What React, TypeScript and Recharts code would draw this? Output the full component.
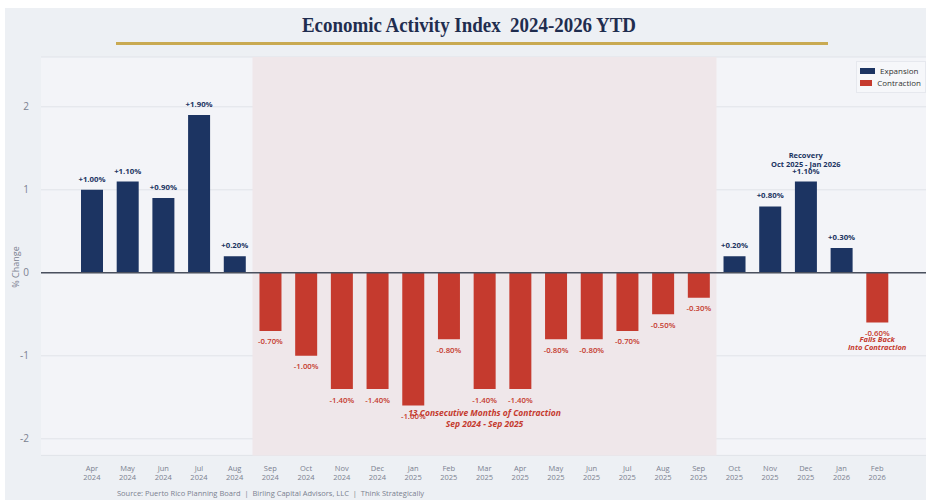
import React from 'react';
import {
  ComposedChart, Bar, XAxis, YAxis, CartesianGrid, ReferenceArea, ReferenceLine,
  ReferenceDot, LabelList, Cell,
} from 'recharts';

const months = [
  'Apr 2024', 'May 2024', 'Jun 2024', 'Jul 2024', 'Aug 2024', 'Sep 2024', 'Oct 2024',
  'Nov 2024', 'Dec 2024', 'Jan 2025', 'Feb 2025', 'Mar 2025', 'Apr 2025', 'May 2025',
  'Jun 2025', 'Jul 2025', 'Aug 2025', 'Sep 2025', 'Oct 2025', 'Nov 2025', 'Dec 2025',
  'Jan 2026', 'Feb 2026',
];
const changes = [
  1.0, 1.1, 0.9, 1.9, 0.2, -0.7, -1.0, -1.4, -1.4, -1.6, -0.8, -1.4, -1.4, -0.8,
  -0.8, -0.7, -0.5, -0.3, 0.2, 0.8, 1.1, 0.3, -0.6,
];
const yTicks = [-2, -1, 0, 1, 2];
const legendItems = [
  { name: 'Expansion', color: '#1c3462' },
  { name: 'Contraction', color: '#c53a2e' },
];

const NAVY = '#1c3462';
const RED = '#c53a2e';
const GRAY = '#7b8190';
const FONT = '"Open Sans", "Noto Sans", sans-serif';

const data = months.map((m, i) => ({ month: m, change: changes[i] }));

const MonthTick = (props: any) => {
  const { x, y, payload } = props;
  const [m, yr] = String(payload.value).split(' ');
  return (
    <text textAnchor="middle" fill={GRAY} fontSize={7.5} fontFamily={FONT}>
      <tspan x={x} y={y + 8}>{m}</tspan>
      <tspan x={x} y={y + 17}>{yr}</tspan>
    </text>
  );
};

const BarLabel = (props: any) => {
  const { x, y, width, height, value } = props;
  const v = Number(value);
  const cx = x + width / 2;
  const top = Math.min(y, y + height);
  const bottom = Math.max(y, y + height);
  if (v >= 0) {
    return (
      <text x={cx} y={top - 8} textAnchor="middle" fill={NAVY} fontSize={7.8} fontWeight={700} fontFamily={FONT}>
        {`+${v.toFixed(2)}%`}
      </text>
    );
  }
  return (
    <text x={cx} y={bottom + 13.5} textAnchor="middle" fill={RED} fontSize={7.8} fontWeight={600} fontFamily={FONT}>
      {`${v.toFixed(2)}%`}
    </text>
  );
};

const TwoLineNote = (lines: string[], color: string, italic: boolean, size: number, gap: number) =>
  (props: any) => {
    const { viewBox } = props;
    const cx = viewBox.x + (viewBox.width || 0) / 2;
    const cy = viewBox.y + (viewBox.height || 0) / 2;
    return (
      <text textAnchor="middle" fill={color} fontSize={size} fontWeight={700}
        fontStyle={italic ? 'italic' : 'normal'} fontFamily={FONT}>
        {lines.map((l, i) => (
          <tspan key={i} x={cx} y={cy + i * gap}>{l}</tspan>
        ))}
      </text>
    );
  };

const LegendBox = () => (
  <div style={{
    position: 'absolute', left: 856, top: 61, width: 70,
    background: '#f6f7fa', border: '1px solid #e6e8ee', padding: '3px 4px 3px 3px', boxSizing: 'border-box',
    fontFamily: FONT, fontSize: 8, color: '#333', lineHeight: '12px',
  }}>
    {legendItems.map((it) => (
      <div key={it.name} style={{ display: 'flex', alignItems: 'center' }}>
        <span style={{ display: 'inline-block', width: 15, height: 6, background: it.color, marginRight: 5 }} />
        <span>{it.name}</span>
      </div>
    ))}
  </div>
);

export default function App() {
  return (
    <div style={{ position: 'absolute', left: 0, top: 0, width: 926, height: 500, background: '#fff', overflow: 'hidden' }}>
      <div style={{ position: 'absolute', left: 5, top: 8, width: 921, height: 492, background: '#edf0f4' }} />
      <div style={{
        position: 'absolute', left: 6, top: 12, width: 926, textAlign: 'center',
        fontFamily: '"Liberation Serif", "DejaVu Serif", serif', fontWeight: 700, fontSize: 22,
        color: '#1f2d4f', transform: 'scaleX(0.86)', transformOrigin: '463px 0',
      }}>
        Economic Activity Index&nbsp;&nbsp;2024-2026 YTD
      </div>
      <div style={{ position: 'absolute', left: 116, top: 42, width: 712, height: 3, background: '#c9aa52' }} />
      <div style={{ position: 'absolute', left: 0, top: 0 }}>
        <ComposedChart width={926} height={500} data={data}
          margin={{ top: 57, right: 0, bottom: 0, left: 0 }}>
          <CartesianGrid vertical={false} horizontal fill="#f3f4f8" stroke="#e0e3e9" strokeWidth={1} />
          <ReferenceArea x1="Sep 2024" x2="Sep 2025" fill="#efe7ea" fillOpacity={1} stroke="none" />
          <XAxis dataKey="month" interval={0} axisLine={false} tickLine={false} height={44.6}
            padding={{ left: 33, right: 31 }} tick={<MonthTick />} />
          <YAxis width={41} domain={[-2.2, 2.6]} ticks={yTicks} allowDataOverflow
            axisLine={false} tickLine={false} tickMargin={6}
            tick={{ fill: GRAY, fontSize: 10, fontFamily: FONT }}
            label={{
              content: () => (
                <text x={19} y={267} transform="rotate(-90 19 267)" textAnchor="middle"
                  fill={GRAY} fontSize={9} fontFamily={FONT}>% Change</text>
              ),
            }} />
          <ReferenceLine y={0} stroke="#4a505e" strokeWidth={1.5} />
          <Bar dataKey="change" barSize={22} isAnimationActive={false}>
            {data.map((d, i) => (
              <Cell key={i} fill={d.change >= 0 ? NAVY : RED} />
            ))}
            <LabelList dataKey="change" content={<BarLabel />} />
          </Bar>
          <ReferenceDot x="Mar 2025" y={-1.73} r={0} stroke="none" fill="none"
            label={{ content: TwoLineNote(['13 Consecutive Months of Contraction', 'Sep 2024 - Sep 2025'], RED, true, 8.5, 10.5) }} />
          <ReferenceDot x="Dec 2025" y={1.38} r={0} stroke="none" fill="none"
            label={{ content: TwoLineNote(['Recovery', 'Oct 2025 - Jan 2026'], NAVY, false, 7.5, 8.5) }} />
          <ReferenceDot x="Feb 2026" y={-0.83} r={0} stroke="none" fill="none"
            label={{ content: TwoLineNote(['Falls Back', 'Into Contraction'], RED, true, 7.5, 8.5) }} />
        </ComposedChart>
      </div>
      <LegendBox />
      <div style={{
        position: 'absolute', left: 117, top: 488, fontFamily: FONT, fontSize: 7.5, color: GRAY, whiteSpace: 'pre',
      }}>
        {'Source: Puerto Rico Planning Board  |  Birling Capital Advisors, LLC  |  Think Strategically'}
      </div>
    </div>
  );
}
